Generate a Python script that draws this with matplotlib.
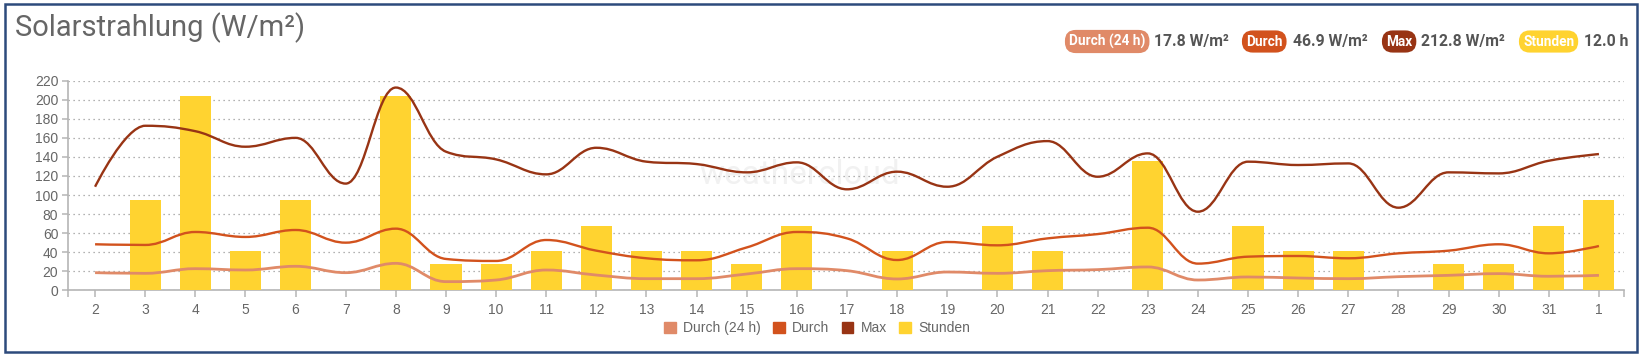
import matplotlib
matplotlib.use("Agg")
import matplotlib.pyplot as plt
from matplotlib.path import Path
from matplotlib.patches import PathPatch, Patch, Rectangle
import numpy as np

# data (days 2..31, then 1)
days = ['2', '3', '4', '5', '6', '7', '8', '9', '10', '11', '12', '13', '14', '15', '16', '17',
        '18', '19', '20', '21', '22', '23', '24', '25', '26', '27', '28', '29', '30', '31', '1']
max_vals = [108.7, 172.7, 167, 150.7, 160, 112, 212.8, 145.5, 137.4, 121.7, 149.6, 135, 132.5, 123.8,
            134.3, 106, 124.5, 108.7, 140.2, 156.6, 119.2, 143.7, 82.5, 135, 131.5, 133.2, 86.7,
            123.8, 122.7, 136, 143]
durch = [48.3, 47.6, 61.2, 56, 63.3, 50, 64.7, 32.9, 30.8, 52.8, 41.6, 33.6, 31.5, 45, 61.2, 54.5,
         31.8, 50.7, 47.2, 54.5, 59, 65.7, 28, 35.3, 36, 33.6, 38.8, 41.6, 48.3, 38.8, 46.5]
durch24 = [18.5, 17.8, 22.7, 21.3, 25.2, 18.5, 28.3, 9.1, 10.8, 21.3, 16, 12.2, 12.2, 17.1, 22.7,
           20.6, 11.9, 19.2, 17.8, 20.6, 21.7, 24.5, 10.8, 14, 12.9, 12.2, 14.3, 15.7, 17.5, 14.7, 15.7]
stunden = [0, 0.7, 1.5, 0.3, 0.7, 0, 1.5, 0.2, 0.2, 0.3, 0.5, 0.3, 0.3, 0.2, 0.5, 0, 0.3, 0, 0.5,
           0.3, 0, 1.0, 0, 0.5, 0.3, 0.3, 0, 0.2, 0.2, 0.5, 0.7]

badges = [('Durch (24 h)', '17.8 W/m²'), ('Durch', '46.9 W/m²'),
          ('Max', '212.8 W/m²'), ('Stunden', '12.0 h')]

c_d24 = '#e08a68'
c_d = '#d2521d'
c_max = '#983414'
c_st = '#ffd330'
grey = '#666666'


def spline_path(xs, ys):
    # highcharts-like spline with smoothing 1.5
    n = len(xs)
    lc = [None] * n
    rc = [None] * n
    for i in range(n):
        px, py = xs[i], ys[i]
        if i == 0 or i == n - 1:
            lc[i] = rc[i] = (px, py)
            continue
        lx, ly = xs[i - 1], ys[i - 1]
        nx, ny = xs[i + 1], ys[i + 1]
        lcx = (1.5 * px + lx) / 2.5
        lcy = (1.5 * py + ly) / 2.5
        rcx = (1.5 * px + nx) / 2.5
        rcy = (1.5 * py + ny) / 2.5
        corr = (rcy - lcy) * (rcx - px) / (rcx - lcx) + py - rcy
        lcy += corr
        rcy += corr
        if lcy > max(ly, py):
            lcy = max(ly, py); rcy = 2 * py - lcy
        elif lcy < min(ly, py):
            lcy = min(ly, py); rcy = 2 * py - lcy
        if rcy > max(py, ny):
            rcy = max(py, ny); lcy = 2 * py - rcy
        elif rcy < min(py, ny):
            rcy = min(py, ny); lcy = 2 * py - rcy
        lc[i] = (lcx, lcy)
        rc[i] = (rcx, rcy)
    verts = [(xs[0], ys[0])]
    codes = [Path.MOVETO]
    for i in range(1, n):
        verts += [rc[i - 1], lc[i], (xs[i], ys[i])]
        codes += [Path.CURVE4] * 3
    return Path(verts, codes)


W, H = 1644, 356
fig = plt.figure(figsize=(W / 100, H / 100), dpi=100)

x = np.arange(len(days))
ax = fig.add_axes([68 / W, 1 - 290.3 / H, (1624 - 68) / W, (290.3 - 80.7) / H])
ax.set_xlim(-0.54, 30.5)
ax.set_ylim(0, 220)
ax.set_yticks(np.arange(0, 221, 20))
ax.set_xticks(x)
ax.set_xticklabels(days)
ax.set_xticks([-0.54, 30.5], minor=True)
ax.grid(axis='y', color='#999999', linestyle=(0, (1, 3)), linewidth=0.9)
ax.patch.set_visible(False)
for s in ['top', 'right']:
    ax.spines[s].set_visible(False)
for s in ['left', 'bottom']:
    ax.spines[s].set_color('#b5b5b5')
    ax.spines[s].set_linewidth(1.2)
ax.tick_params(axis='both', which='both', colors='#b5b5b5', labelcolor=grey, labelsize=10, width=1.1)
ax.tick_params(axis='x', which='both', length=5, pad=4)
ax.tick_params(axis='y', length=4, pad=3)
for lab in ax.get_xticklabels() + ax.get_yticklabels():
    lab.set_family('Liberation Sans')

ax.text(0.47, 0.55, 'weathercloud', transform=ax.transAxes, color='#f1f1f1',
        fontsize=24, ha='center', va='center', family='Roboto', zorder=0.2)

# bars on a hidden hours axis
axb = ax.twinx()
axb.set_ylim(0, 220 / 136)
axb.bar(x, stunden, width=0.62, color=c_st, zorder=2)
axb.axis('off')
axb.set_zorder(1)
axb.patch.set_visible(False)

# lines on top
axl = ax.twinx()
axl.set_ylim(0, 220)
axl.axis('off')
axl.set_zorder(2)
axl.patch.set_visible(False)
axl.add_patch(PathPatch(spline_path(x, durch24), fill=False, ec=c_d24, lw=2.0))
axl.add_patch(PathPatch(spline_path(x, durch), fill=False, ec=c_d, lw=1.7))
axl.add_patch(PathPatch(spline_path(x, max_vals), fill=False, ec=c_max, lw=1.7))
ax.set_xlim(-0.54, 30.5)

# title
fig.text(15 / W, 1 - 36 / H, 'Solarstrahlung (W/m²)', fontsize=21, color=grey,
         family='Roboto', va='baseline')

# top right badges
badge_x = [1069, 1246, 1386, 1523]
value_x = [1154, 1293, 1421, 1584]
badge_c = [c_d24, c_d, c_max, c_st]
yb = 1 - 41.5 / H
for (lab, val), bx, vx, bc in zip(badges, badge_x, value_x, badge_c):
    fig.text(bx / W, yb, lab, color='white', fontsize=9.8, fontweight='bold', family='Roboto',
             va='center', ha='left',
             bbox=dict(boxstyle='round,pad=0.3,rounding_size=0.8', fc=bc, ec='none'))
    fig.text(vx / W, yb, val, color='#555555', fontsize=11.3, fontweight='bold', family='Roboto',
             va='center', ha='left')

# bottom legend
handles = [Patch(color=c_d24), Patch(color=c_d), Patch(color=c_max), Patch(color=c_st)]
leg = fig.legend(handles, [b[0] for b in badges], loc='center', ncol=4,
                 bbox_to_anchor=(817 / W, 1 - 328 / H), frameon=False,
                 handlelength=0.85, handleheight=0.85, handletextpad=0.5, columnspacing=0.9,
                 prop={'family': 'Liberation Sans', 'size': 10})
for t in leg.get_texts():
    t.set_color(grey)

# frame around the widget
fig.patches.append(Rectangle((5 / W, 4 / H), (1637 - 5) / W, (352 - 4) / H,
                             transform=fig.transFigure, fill=False, ec='#2d4a7c', lw=1.8))

fig.savefig('out.png', dpi=100)
